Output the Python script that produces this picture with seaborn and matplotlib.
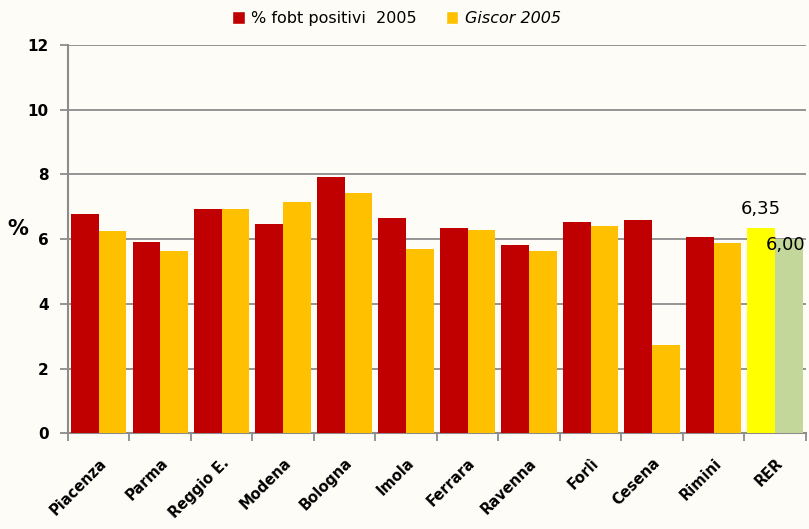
import matplotlib
matplotlib.use("Agg")
import matplotlib.pyplot as plt
import seaborn as sns
import pandas as pd
import numpy as np

categories = ["Piacenza", "Parma", "Reggio E.", "Modena", "Bologna", "Imola",
              "Ferrara", "Ravenna", "Forlì", "Cesena", "Rimini", "RER"]
fobt_2005 = [6.77, 5.91, 6.93, 6.46, 7.92, 6.65, 6.34, 5.81, 6.53, 6.59, 6.06, 6.35]
giscor_2005 = [6.25, 5.63, 6.93, 7.14, 7.42, 5.69, 6.28, 5.63, 6.40, 2.72, 5.88, 6.00]
series_names = ["% fobt positivi  2005", "Giscor 2005"]
rer_labels = ["6,35", "6,00"]

sns.set_theme(style="white")
plt.rcParams['font.family'] = ['DejaVu Sans']
plt.rcParams['text.color'] = 'black'
plt.rcParams['xtick.color'] = 'black'
plt.rcParams['ytick.color'] = 'black'
plt.rcParams['axes.labelcolor'] = 'black'
plt.rcParams['legend.labelcolor'] = 'black'

df = pd.DataFrame({
    "cat": categories * 2,
    "val": fobt_2005 + giscor_2005,
    "serie": [series_names[0]] * len(categories) + [series_names[1]] * len(categories),
})

bg = "#fdfcf6"
fig = plt.figure(figsize=(8.09, 5.29), dpi=100, facecolor=bg)
ax = fig.add_axes([0.084, 0.181, 0.912, 0.734])
ax.set_facecolor(bg)

sns.barplot(data=df, x="cat", y="val", hue="serie", order=categories,
            hue_order=series_names, palette=["#c00000", "#ffc000"],
            width=0.9, gap=0, saturation=1, ax=ax, legend=True, zorder=3)

# RER special colours
ax.containers[0][11].set_facecolor("#ffff00")
ax.containers[1][11].set_facecolor("#c4d79b")
for c in ax.containers:
    for p in c:
        p.set_edgecolor("none")

# value labels for RER
p0 = ax.containers[0][11]
ax.text(p0.get_x() + p0.get_width() / 2, fobt_2005[11] + 0.3, rer_labels[0],
        ha="center", va="bottom", fontsize=13, color="black", zorder=5)
ax.text(11.49, giscor_2005[11] - 0.45, rer_labels[1],
        ha="right", va="bottom", fontsize=13, color="black", zorder=5)

ax.set_ylim(0, 12)
ax.set_xlim(-0.5, 11.5)
ax.set_yticks(np.arange(0, 13, 2))
ax.yaxis.grid(True, color="#8c8c8c", linewidth=1.3, zorder=0)
ax.set_axisbelow(True)

for s in ["top", "right"]:
    ax.spines[s].set_visible(False)
for s in ["left", "bottom"]:
    ax.spines[s].set_color("#8c8c8c")
    ax.spines[s].set_linewidth(1.5)

ax.tick_params(axis="y", which="major", length=6, width=1.3, color="#8c8c8c",
               labelcolor="black", direction="out", left=True, labelsize=11, pad=8)
for lab in ax.get_yticklabels():
    lab.set_fontweight("bold")

ax.set_xticks(np.arange(len(categories)))
ax.set_xticklabels(categories, rotation=45, ha="right", rotation_mode="anchor",
                   fontsize=10.5, fontweight="bold", color="black")
ax.tick_params(axis="x", which="major", length=0, pad=16)
ax.set_xticks(np.arange(-0.5, len(categories), 1.0), minor=True)
ax.tick_params(axis="x", which="minor", length=6, width=1.3, color="#8c8c8c",
               direction="out", bottom=True)

ax.set_xlabel("")
ax.set_ylabel("%", rotation=0, fontsize=15, fontweight="bold", color="black")
ax.yaxis.set_label_coords(-0.068, 0.50)

handles, labels = ax.get_legend_handles_labels()
ax.get_legend().remove()
leg = fig.legend(handles, labels, loc="center", bbox_to_anchor=(0.49, 0.965),
                 ncol=2, frameon=False, fontsize=11.5, handlelength=0.8,
                 handleheight=0.8, handletextpad=0.4, columnspacing=1.8)
for t in leg.get_texts():
    t.set_color("black")
leg.get_texts()[1].set_fontstyle("italic")

fig.savefig("out.png", dpi=100, facecolor=bg)
